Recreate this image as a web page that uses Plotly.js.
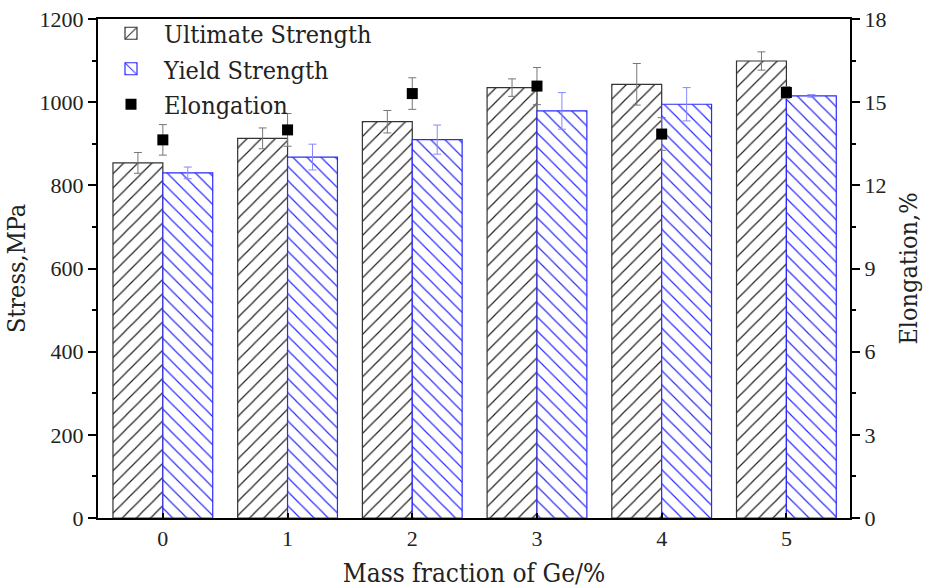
<!DOCTYPE html>
<html>
<head>
<meta charset="utf-8">
<script src="https://cdn.plot.ly/plotly-3.0.1.min.js"></script>
<style>html,body{margin:0;padding:0;background:#fff;}#chart{width:935px;height:588px;}</style>
</head>
<body>
<div id="chart"></div>
<script>
var geFraction = [0, 1, 2, 3, 4, 5];
var ultimateStrength = [854, 913, 953, 1035, 1043, 1099];
var ultimateErr = [25, 25, 27, 21, 50, 22];
var yieldStrength = [830, 868, 910, 979, 995, 1015];
var yieldErr = [14, 31, 35, 44, 40, 3];
var elongation = [13.64, 14.0, 15.31, 15.58, 13.85, 15.35];
var elongationErr = [0.55, 0.59, 0.57, 0.67, 0.59, 0.21];

var FONT = "DejaVu Serif Condensed, DejaVu Serif, serif";
var NUMFONT = "Liberation Serif, serif";

var traces = [
  {
    type: 'bar', name: 'Ultimate Strength', x: geFraction, y: ultimateStrength,
    marker: {color: '#ffffff', line: {color: '#333333', width: 1.2},
      pattern: {shape: '/', fgcolor: '#222222', bgcolor: '#ffffff', size: 10, solidity: 0.12}},
    error_y: {type: 'data', array: ultimateErr, visible: true, color: '#777777', thickness: 1, width: 4}
  },
  {
    type: 'bar', name: 'Yield Strength', x: geFraction, y: yieldStrength,
    marker: {color: '#ffffff', line: {color: '#2b2bff', width: 1.2},
      pattern: {shape: '\\', fgcolor: '#2b2bff', bgcolor: '#ffffff', size: 10, solidity: 0.12}},
    error_y: {type: 'data', array: yieldErr, visible: true, color: '#8888ff', thickness: 1, width: 4}
  },
  {
    type: 'scatter', mode: 'markers', name: 'Elongation', x: geFraction, y: elongation, yaxis: 'y2',
    marker: {symbol: 'square', color: '#000000', size: 11},
    error_y: {type: 'data', array: elongationErr, visible: true, color: '#777777', thickness: 1, width: 4}
  }
];

var layout = {
  width: 935, height: 588,
  margin: {l: 98, r: 85, t: 18, b: 70},
  paper_bgcolor: '#ffffff', plot_bgcolor: '#ffffff',
  font: {family: FONT, color: '#222222', size: 19},
  barmode: 'group', bargap: 0.2, bargroupgap: 0,
  showlegend: true,
  legend: {x: 0.0, y: 1.015, xanchor: 'left', yanchor: 'top', bgcolor: 'rgba(0,0,0,0)',
    itemwidth: 56,
    font: {family: FONT, size: 25, color: '#222222'}, tracegroupgap: 0, traceorder: 'normal'},
  xaxis: {
    range: [-0.52, 5.51], tickmode: 'array', tickvals: geFraction, ticktext: geFraction.map(String),
    showgrid: false, zeroline: false, showline: true, linecolor: '#000000', linewidth: 2, mirror: true,
    ticks: 'inside', ticklen: 5, tickwidth: 2, tickcolor: '#000000',
    tickfont: {family: NUMFONT, size: 22, color: '#222222'},
    title: {text: 'Mass fraction of Ge/%', font: {family: FONT, size: 26, color: '#222222'}, standoff: 14}
  },
  yaxis: {
    range: [0, 1200], dtick: 200, showgrid: false, zeroline: false,
    showline: true, linecolor: '#000000', linewidth: 2,
    ticks: 'outside', ticklen: 8, tickwidth: 2, tickcolor: '#000000',
    minor: {dtick: 100, ticks: 'outside', ticklen: 4, tickwidth: 2, tickcolor: '#000000'},
    tickfont: {family: NUMFONT, size: 22, color: '#222222'},
    title: {text: 'Stress,MPa', font: {family: FONT, size: 25, color: '#222222'}, standoff: 7}
  },
  yaxis2: {
    overlaying: 'y', side: 'right', range: [0, 18], dtick: 3, showgrid: false, zeroline: false,
    showline: true, linecolor: '#000000', linewidth: 2,
    ticks: 'outside', ticklen: 8, tickwidth: 2, tickcolor: '#000000',
    minor: {dtick: 1.5, ticks: 'outside', ticklen: 4, tickwidth: 2, tickcolor: '#000000'},
    tickfont: {family: NUMFONT, size: 22, color: '#222222'},
    title: {text: 'Elongation,%', font: {family: FONT, size: 25, color: '#222222'}, standoff: 14}
  }
};

Plotly.newPlot('chart', traces, layout, {displayModeBar: false, staticPlot: true});
</script>
</body>
</html>
